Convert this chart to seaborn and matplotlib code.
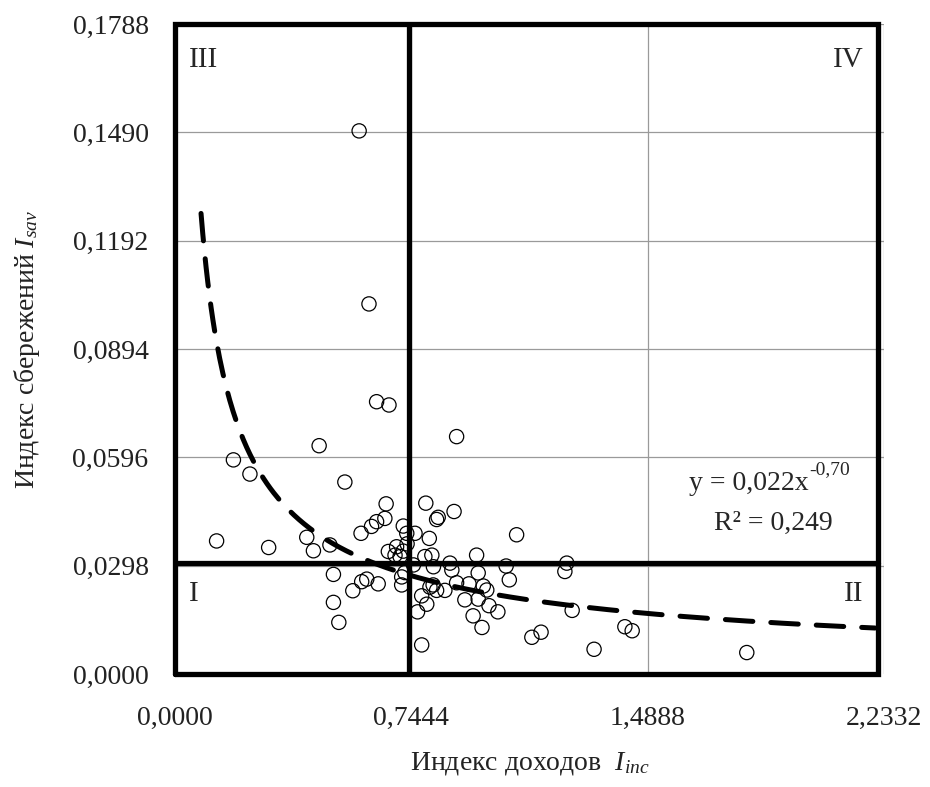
import numpy as np
import pandas as pd
import matplotlib
matplotlib.use("Agg")
import matplotlib.pyplot as plt
import seaborn as sns

# ---- data ----
income_index = [0.580, 0.611, 0.635, 0.674, 0.887, 0.454, 0.184, 0.236, 0.535, 0.665,
                0.790, 0.879, 0.829, 0.824, 0.661, 0.635, 0.619, 0.586, 0.719, 0.730,
                0.756, 0.801, 1.076, 0.131, 0.295, 0.415, 0.436, 0.488, 0.698, 0.672,
                0.693, 0.719, 0.731, 0.787, 0.809, 0.950, 0.866, 0.872, 0.814, 0.751,
                0.724, 0.714, 1.043, 0.955, 0.499, 0.604, 0.588, 0.640, 0.560, 0.714,
                1.053, 0.887, 0.803, 0.824, 0.850, 0.926, 0.971, 0.777, 0.793, 0.764,
                0.913, 0.955, 0.989, 1.017, 0.939, 0.967, 0.499, 0.516, 0.777, 1.124,
                1.153, 1.234, 1.228, 1.251, 1.417, 1.440, 1.320, 1.801, 0.709, 0.982,
                0.813]
savings_index = [0.1494, 0.1018, 0.0749, 0.0740, 0.0653, 0.0628, 0.0589, 0.0550, 0.0528, 0.0468,
                 0.0470, 0.0447, 0.0431, 0.0425, 0.0428, 0.0419, 0.0406, 0.0387, 0.0407, 0.0387,
                 0.0387, 0.0373, 0.0383, 0.0366, 0.0348, 0.0376, 0.0339, 0.0355, 0.0350, 0.0337,
                 0.0327, 0.0338, 0.0358, 0.0323, 0.0327, 0.0327, 0.0305, 0.0286, 0.0295, 0.0300,
                 0.0279, 0.0267, 0.0297, 0.0278, 0.0274, 0.0261, 0.0254, 0.0248, 0.0229, 0.0245,
                 0.0259, 0.0251, 0.0239, 0.0230, 0.0230, 0.0248, 0.0242, 0.0215, 0.0192, 0.0171,
                 0.0204, 0.0206, 0.0188, 0.0171, 0.0160, 0.0128, 0.0197, 0.0142, 0.0080, 0.0101,
                 0.0115, 0.0305, 0.0282, 0.0175, 0.0130, 0.0119, 0.0068, 0.0059, 0.0323, 0.0231,
                 0.0245]

x_ticks = [0.0, 0.7444, 1.4888, 2.2332]
x_tick_labels = ["0,0000", "0,7444", "1,4888", "2,2332"]
y_ticks = [0.0, 0.0298, 0.0596, 0.0894, 0.1192, 0.1490, 0.1788]
y_tick_labels = ["0,0000", "0,0298", "0,0596", "0,0894", "0,1192", "0,1490", "0,1788"]

# power trend y = a * x^b (from the chart's equation)
trend_a = 0.022
trend_b = -0.70
trend_x_range = [0.082, 2.205]

# quadrant dividers and outer frame
x_split = 0.736
y_split = 0.0305
frame_x = [0.0, 2.214]
frame_y = [0.0, 0.1788]

quadrant_labels = ["I", "II", "III", "IV"]

# ---- styling ----
sns.set_style("white")
plt.rcParams["font.family"] = ["Liberation Serif", "DejaVu Serif"]
plt.rcParams["mathtext.fontset"] = "custom"
plt.rcParams["mathtext.rm"] = "Liberation Serif"
plt.rcParams["mathtext.it"] = "Liberation Serif:italic"

fig = plt.figure(figsize=(9.3, 7.87), dpi=100)
ax = fig.add_axes([175 / 930, 1 - 674 / 787, (884 - 175) / 930, (674 - 24) / 787])

df = pd.DataFrame({"inc": income_index, "sav": savings_index})

ax.set_xlim(x_ticks[0], x_ticks[-1])
ax.set_ylim(y_ticks[0], y_ticks[-1])

# grid
for yv in y_ticks[1:]:
    ax.axhline(yv, color="#9a9a9a", lw=0.9, zorder=0)
for xv in x_ticks[1:]:
    ax.axvline(xv, color="#9a9a9a", lw=0.9, zorder=0)

# frame + quadrant lines
lw_frame = 3.8
ax.plot([frame_x[0], frame_x[1], frame_x[1], frame_x[0], frame_x[0]],
        [frame_y[0], frame_y[0], frame_y[1], frame_y[1], frame_y[0]],
        color="black", lw=lw_frame, solid_joinstyle="miter", clip_on=False, zorder=3)
ax.plot([x_split, x_split], frame_y, color="black", lw=lw_frame, zorder=3)
ax.plot(frame_x, [y_split, y_split], color="black", lw=lw_frame, zorder=3)

# scatter
sns.scatterplot(data=df, x="inc", y="sav", ax=ax, marker="o", s=105,
                facecolor="none", edgecolor="black", linewidth=0.9, zorder=4,
                legend=False)

# trend line
tx = np.linspace(trend_x_range[0], trend_x_range[1], 400)
ty = trend_a * tx ** trend_b
ax.plot(tx, ty, color="black", lw=3.6, linestyle=(0, (5.5, 3.6)),
        dash_capstyle="round", zorder=5)

# ticks
ax.set_xticks(x_ticks)
ax.set_xticklabels(x_tick_labels)
ax.set_yticks(y_ticks)
ax.set_yticklabels(y_tick_labels)
ax.tick_params(axis="both", which="both", direction="out", length=7, width=0.9,
               color="#9a9a9a", labelsize=20, labelcolor="#222222", pad=12)
ax.tick_params(axis="x", pad=16)
for sp in ax.spines.values():
    sp.set_visible(False)

ax.set_xlabel("Индекс доходов  $I_{inc}$", fontsize=20, color="#222222", labelpad=14)
ax.set_ylabel("Индекс сбережений $I_{sav}$", fontsize=20, color="#222222", labelpad=22)

# quadrant labels
ax.text(0.045, 0.1725, quadrant_labels[2], fontsize=21, ha="left", va="top", zorder=6)
ax.text(2.17, 0.1725, quadrant_labels[3], fontsize=21, ha="right", va="top", zorder=6)
ax.text(0.045, 0.0255, quadrant_labels[0], fontsize=21, ha="left", va="top", zorder=6)
ax.text(2.17, 0.0255, quadrant_labels[1], fontsize=21, ha="right", va="top", zorder=6)

# equation
eq = ax.text(1.62, 0.0525, "y = 0,022x", fontsize=20, ha="left", va="center", zorder=6)
ax.annotate("-0,70", xy=(1.0, 0.72), xycoords=eq, fontsize=14, ha="left", va="bottom",
            zorder=6)
ax.text(1.885, 0.0414, "R² = 0,249", fontsize=20, ha="center", va="center", zorder=6)

fig.savefig("out.png", dpi=100)
